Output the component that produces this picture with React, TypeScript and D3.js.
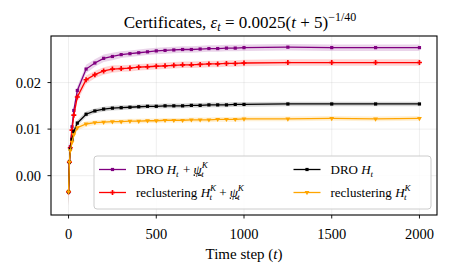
import React from 'react'
import * as d3 from 'd3'

// time steps where the certificates were recorded
const steps = [0, 5, 10, 20, 30, 50, 100, 150, 200, 250, 300, 350, 400, 450, 500, 550, 600, 650, 700,
  750, 800, 850, 900, 950, 1000, 1250, 1500, 1750, 2000]

const droPsi = [-0.0035, 0.0029, 0.0062, 0.0105, 0.0140, 0.0183, 0.0229, 0.0242, 0.0252, 0.0256, 0.0260,
  0.0262, 0.0264, 0.0266, 0.0268, 0.0269, 0.0270, 0.0271, 0.0271, 0.0272, 0.0273, 0.0273, 0.0274, 0.0274,
  0.0275, 0.0276, 0.0275, 0.0275, 0.0275]
const reclPsi = [-0.0035, 0.0029, 0.0060, 0.0098, 0.0130, 0.0169, 0.0206, 0.0217, 0.0225, 0.0229, 0.0230,
  0.0231, 0.0233, 0.0234, 0.0235, 0.0236, 0.0237, 0.0238, 0.0238, 0.0239, 0.0240, 0.0240, 0.0241, 0.0241,
  0.0242, 0.0243, 0.0243, 0.0243, 0.0243]
const droH = [-0.0035, 0.0029, 0.0057, 0.0078, 0.0095, 0.0113, 0.0132, 0.0139, 0.0143, 0.0145, 0.0146,
  0.0147, 0.0148, 0.0149, 0.0149, 0.0150, 0.0150, 0.0150, 0.0151, 0.0151, 0.0152, 0.0152, 0.0152, 0.0153,
  0.0153, 0.0154, 0.0154, 0.0154, 0.0154]
const reclH = [-0.0035, 0.0029, 0.0054, 0.0072, 0.0088, 0.0103, 0.0111, 0.0114, 0.0115, 0.0116, 0.0116,
  0.0117, 0.0117, 0.0118, 0.0118, 0.0119, 0.0119, 0.0119, 0.0120, 0.0120, 0.0120, 0.0121, 0.0121, 0.0121,
  0.0122, 0.0122, 0.0123, 0.0122, 0.0123]

// half width of the shaded bands
const spreadHigh = [0.0031, 0.0015, 0.0012, 0.0011, 0.0010, 0.0009, 0.0009, 0.0008, 0.0008, 0.0008, 0.0007,
  0.0007, 0.0007, 0.0007, 0.0007, 0.0007, 0.0007, 0.0007, 0.0007, 0.0007, 0.0007, 0.0007, 0.0007, 0.0007,
  0.0007, 0.0007, 0.0007, 0.0007, 0.0007]
const spreadLow = [0.0031, 0.0012, 0.0009, 0.0008, 0.0007, 0.0006, 0.0006, 0.0005, 0.0005, 0.0005, 0.0005,
  0.0005, 0.0005, 0.0005, 0.0005, 0.0005, 0.0005, 0.0005, 0.0005, 0.0005, 0.0005, 0.0005, 0.0005, 0.0005,
  0.0005, 0.0005, 0.0005, 0.0005, 0.0005]

const xTicks = [0, 500, 1000, 1500, 2000]
const yTicks = [0, 0.01, 0.02]
const yTickLabels = ['0.00', '0.01', '0.02']

const series = [
  { key: 'droPsi', values: droPsi, spread: spreadHigh, color: '#800080', marker: 'square' },
  { key: 'reclPsi', values: reclPsi, spread: spreadHigh, color: '#ff0000', marker: 'plus' },
  { key: 'droH', values: droH, spread: spreadLow, color: '#000000', marker: 'square' },
  { key: 'reclH', values: reclH, spread: spreadLow, color: '#ffa500', marker: 'tri' },
]

const font = '"Liberation Serif", "DejaVu Serif", serif'

const margin = { left: 51, right: 12, top: 36, bottom: 60 }
const W = 449, H = 275

function Marker({ x, y, kind, color }: { x: number, y: number, kind: string, color: string }) {
  if (kind === 'square') {
    return <rect x={x - 1.6} y={y - 1.6} width={3.2} height={3.2} fill={color} />
  }
  if (kind === 'plus') {
    const p = d3.symbol().type(d3.symbolCross).size(14)()
    return <path d={p || ''} transform={`translate(${x},${y})`} fill={color} />
  }
  const p = d3.symbol().type(d3.symbolTriangle).size(10)()
  return <path d={p || ''} transform={`translate(${x},${y}) rotate(180)`} fill={color} />
}

// pieces of a math label: plain text, italic, and stacked sub/superscripts
type Piece = { t: string, it?: boolean, sub?: string, sup?: string, ul?: boolean }

function MathText({ x, y, pieces, size }: { x: number, y: number, pieces: Piece[], size: number }) {
  const small = size * 0.7
  const out: any[] = []
  pieces.forEach((p, i) => {
    out.push(<tspan key={'b' + i} fontStyle={p.it ? 'italic' : 'normal'} dy={0}
      textDecoration={p.ul ? 'underline' : undefined}>{p.t}</tspan>)
    if (p.sup && p.sub) {
      out.push(<tspan key={'p' + i} fontSize={small} fontStyle="italic" dy={-size * 0.4}>{p.sup}</tspan>)
      out.push(<tspan key={'s' + i} fontSize={small} fontStyle="italic" dx={-small * 0.72} dy={size * 0.65}>{p.sub}</tspan>)
      out.push(<tspan key={'r' + i} fontSize={size} dx={small * 0.3} dy={-size * 0.25}>{'\u200a'}</tspan>)
    } else if (p.sub) {
      out.push(<tspan key={'s' + i} fontSize={small} fontStyle="italic" dy={size * 0.25}>{p.sub}</tspan>)
      out.push(<tspan key={'r' + i} fontSize={size} dy={-size * 0.25}>{'\u200a'}</tspan>)
    } else if (p.sup) {
      out.push(<tspan key={'p' + i} fontSize={small} dy={-size * 0.4}>{p.sup}</tspan>)
      out.push(<tspan key={'r' + i} fontSize={size} dy={size * 0.4}>{'\u200a'}</tspan>)
    }
  })
  return <text x={x} y={y} fontSize={size} fontFamily={font}>{out}</text>
}

const legendPieces: Record<string, Piece[]> = {
  droPsi: [{ t: 'DRO ' }, { t: 'H', it: true, sub: 't' }, { t: ' + ' }, { t: 'ψ', it: true, ul: true, sub: 't', sup: 'K' }],
  reclPsi: [{ t: 'reclustering ' }, { t: 'H', it: true, sub: 't', sup: 'K' }, { t: ' + ' }, { t: 'ψ', it: true, ul: true, sub: 't', sup: 'K' }],
  droH: [{ t: 'DRO ' }, { t: 'H', it: true, sub: 't' }],
  reclH: [{ t: 'reclustering ' }, { t: 'H', it: true, sub: 't', sup: 'K' }],
}

export default function App() {
  const x = d3.scaleLinear().domain([-100, 2100]).range([margin.left, W - margin.right])
  const y = d3.scaleLinear().domain([-0.00845, 0.03]).range([H - margin.bottom, margin.top])

  const line = d3.line<number>().x((_, i) => x(steps[i])).y(d => y(d))

  const legendRows = [
    { s: series[0], col: 0, row: 0 },
    { s: series[1], col: 0, row: 1 },
    { s: series[2], col: 1, row: 0 },
    { s: series[3], col: 1, row: 1 },
  ]

  return (
    <svg width={W} height={H} style={{ position: 'absolute', left: 0, top: 0, background: '#fff' }}>
      <defs>
        <clipPath id="plot">
          <rect x={margin.left} y={margin.top} width={W - margin.left - margin.right} height={H - margin.top - margin.bottom} />
        </clipPath>
      </defs>
      {/* grid */}
      {xTicks.map(t => (
        <line key={'gx' + t} x1={x(t)} x2={x(t)} y1={margin.top} y2={H - margin.bottom} stroke="#b0b0b0" strokeOpacity={0.25} strokeWidth={0.8} />
      ))}
      {yTicks.map(t => (
        <line key={'gy' + t} x1={margin.left} x2={W - margin.right} y1={y(t)} y2={y(t)} stroke="#b0b0b0" strokeOpacity={0.25} strokeWidth={0.8} />
      ))}

      <g clipPath="url(#plot)">
        {series.map(s => {
          const area = d3.area<number>()
            .x((_, i) => x(steps[i]))
            .y0((d, i) => y(d - s.spread[i]))
            .y1((d, i) => y(d + s.spread[i]))
          return <path key={'a' + s.key} d={area(s.values) || ''} fill={s.color} fillOpacity={0.17} />
        })}
        {series.map(s => (
          <g key={'l' + s.key}>
            <path d={line(s.values) || ''} fill="none" stroke={s.color} strokeWidth={1.3} />
            {s.values.map((v, i) => (
              <Marker key={i} x={x(steps[i])} y={y(v)} kind={s.marker} color={s.color} />
            ))}
          </g>
        ))}
      </g>

      {/* frame */}
      <rect x={margin.left} y={margin.top} width={W - margin.left - margin.right} height={H - margin.top - margin.bottom} fill="none" stroke="#000" strokeWidth={1.1} />

      {/* x axis */}
      {xTicks.map(t => (
        <g key={'xt' + t}>
          <line x1={x(t)} x2={x(t)} y1={H - margin.bottom} y2={H - margin.bottom + 3.5} stroke="#000" strokeWidth={0.9} />
          <text x={x(t)} y={238.5} textAnchor="middle" fontSize={14.5} fontFamily={font}>{t}</text>
        </g>
      ))}
      <text x={(margin.left + W - margin.right) / 2} y={258.5} textAnchor="middle" fontSize={15} fontFamily={font}>
        Time step (<tspan fontStyle="italic">t</tspan>)
      </text>

      {/* y axis */}
      {yTicks.map((t, i) => (
        <g key={'yt' + t}>
          <line x1={margin.left - 3.5} x2={margin.left} y1={y(t)} y2={y(t)} stroke="#000" strokeWidth={0.9} />
          <text x={41} y={y(t) + 5} textAnchor="end" fontSize={14.5} fontFamily={font}>{yTickLabels[i]}</text>
        </g>
      ))}

      {/* title */}
      <text x={(margin.left + W - margin.right) / 2 - 4} y={27.5} textAnchor="middle" fontSize={17} fontFamily={font}>
        Certificates, <tspan fontStyle="italic">ε</tspan>
        <tspan dy={3.5} fontSize={12} fontStyle="italic">t</tspan>
        <tspan dy={-3.5}> = 0.0025(</tspan>
        <tspan fontStyle="italic">t</tspan>
        <tspan> + 5)</tspan>
        <tspan dy={-7} fontSize={12}>−1/40</tspan>
      </text>

      {/* legend */}
      <rect x={94} y={156} width={337} height={53} rx={3} fill="#fff" fillOpacity={0.85} stroke="#cccccc" strokeWidth={1} />
      {legendRows.map(({ s, col, row }) => {
        const lx = col === 0 ? 99 : 293.5
        const ly = row === 0 ? 169.5 : 192.5
        return (
          <g key={'lg' + s.key}>
            <line x1={lx} x2={lx + 27} y1={ly} y2={ly} stroke={s.color} strokeWidth={1.3} />
            <Marker x={lx + 13.5} y={ly} kind={s.marker} color={s.color} />
            <MathText x={lx + 37} y={ly + 4} size={13} pieces={legendPieces[s.key]} />
          </g>
        )
      })}
    </svg>
  )
}
